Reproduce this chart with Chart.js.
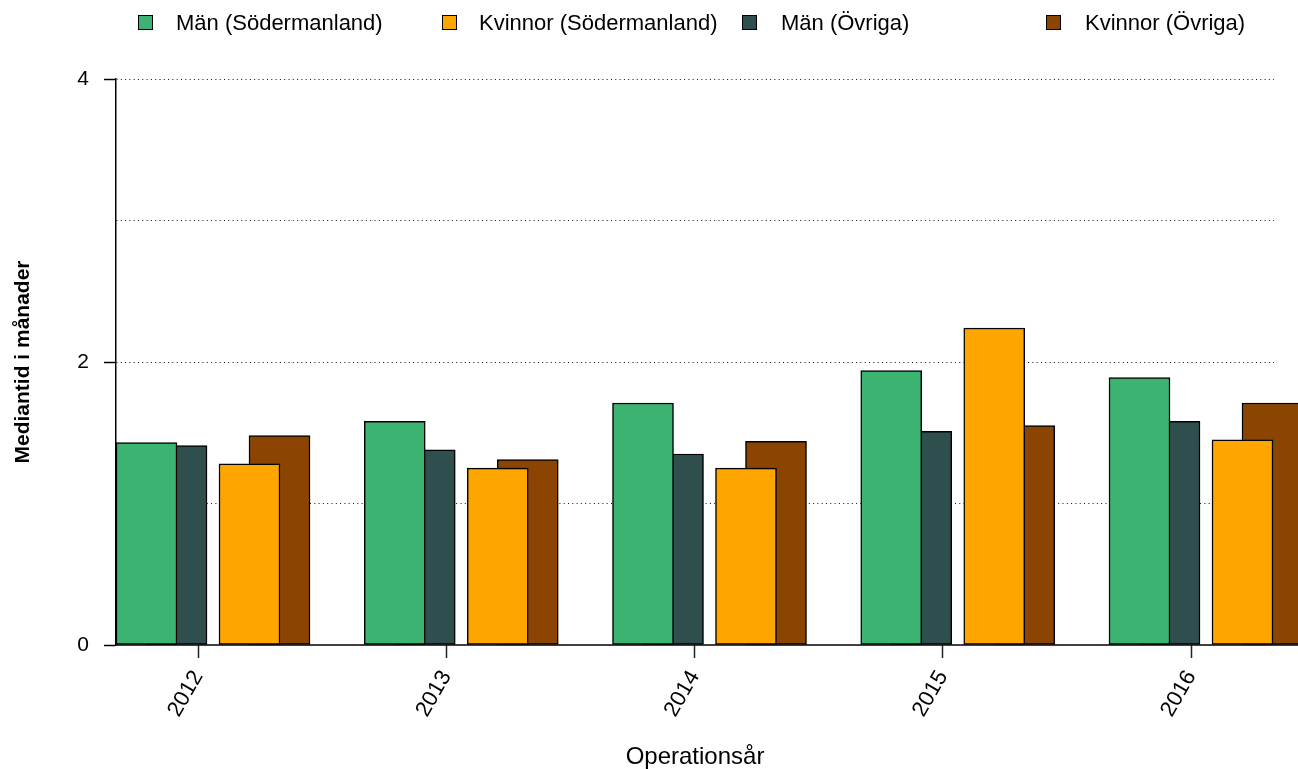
<!DOCTYPE html>
<html>
<head>
<meta charset="utf-8">
<script src="https://cdn.jsdelivr.net/npm/chart.js@4/dist/chart.umd.min.js"></script>
<style>
  html, body { margin: 0; padding: 0; background: #fff; overflow: hidden; }
  #wrap { position: relative; width: 1298px; height: 769px; }
  #c { position: absolute; left: 0; top: 0; }
  .lg-box { position: absolute; width: 15px; height: 15px; border: 1px solid #000; box-sizing: border-box; }
  .lg-txt { position: absolute; font: 22px "Liberation Sans", Arial, Helvetica, sans-serif; color: #000; white-space: nowrap; line-height: 22px; }
</style>
</head>
<body>
<div id="wrap">
  <canvas id="c" width="1298" height="769"></canvas>
</div>
<script>
// ---------------- data ----------------
const years = [2012, 2013, 2014, 2015, 2016];
const seriesLabels = ['Män (Södermanland)', 'Kvinnor (Södermanland)', 'Män (Övriga)', 'Kvinnor (Övriga)'];
const manSodermanland    = [1.43, 1.58, 1.71, 1.94, 1.89];
const kvinnorSodermanland = [1.28, 1.25, 1.25, 2.24, 1.45];
const manOvriga          = [1.41, 1.38, 1.35, 1.51, 1.58];
const kvinnorOvriga      = [1.48, 1.31, 1.44, 1.55, 1.71];
const yTickLabels = [0, 2, 4];
const yGridValues = [0, 1, 2, 3, 4];
const xTitle = 'Operationsår';
const yTitle = 'Mediantid i månader';

// ---------------- styles / layout ----------------
const FONT = '"Liberation Sans", Arial, Helvetica, sans-serif';
const colors = ['#3CB371', '#FFA500', '#2F4F4F', '#8B4500'];
const PX_PER_YEAR = 248.25;
const barOffsetsPx = [-51.5, 51.5, -21.5, 81.5];
const BAR_W = 61;
const plotLeft = 116, plotRight = 1274, plotTop = 79, plotBottom = 645;
const firstTickPx = 198;
const xMin = years[0] - (firstTickPx - plotLeft) / PX_PER_YEAR;
const xMax = xMin + (plotRight - plotLeft) / PX_PER_YEAR;
const legendBoxX = [138, 442, 742, 1046];
const legendTextX = [176, 479, 781, 1085];

// ---------------- legend (HTML) ----------------
const wrap = document.getElementById('wrap');
seriesLabels.forEach((lab, i) => {
  const b = document.createElement('div');
  b.className = 'lg-box';
  b.style.left = legendBoxX[i] + 'px';
  b.style.top = '15px';
  b.style.background = colors[i];
  wrap.appendChild(b);
  const t = document.createElement('div');
  t.className = 'lg-txt';
  t.style.left = legendTextX[i] + 'px';
  t.style.top = '12px';
  t.textContent = lab;
  wrap.appendChild(t);
});

// ---------------- chart ----------------
const seriesValues = [manSodermanland, kvinnorSodermanland, manOvriga, kvinnorOvriga];
const datasets = seriesValues.map((vals, i) => ({
  label: seriesLabels[i],
  data: years.map((yr, k) => ({ x: yr + barOffsetsPx[i] / PX_PER_YEAR, y: vals[k] })),
  backgroundColor: colors[i],
  borderColor: '#000',
  borderWidth: 1.5,
  borderSkipped: false,
  barThickness: BAR_W,
  grouped: false,
  clip: false
}));

const baselinePlugin = {
  id: 'baseline',
  afterDatasetsDraw(chart) {
    const ctx = chart.ctx;
    const y = chart.scales.y.getPixelForValue(0);
    ctx.save();
    ctx.strokeStyle = '#000';
    ctx.lineWidth = 1.5;
    ctx.beginPath();
    ctx.moveTo(chart.chartArea.left, y);
    ctx.lineTo(chart.width, y);
    ctx.stroke();
    ctx.restore();
  }
};

Chart.defaults.font.family = FONT;
Chart.defaults.color = '#000';

new Chart(document.getElementById('c'), {
  type: 'bar',
  data: { datasets },
  plugins: [baselinePlugin],
  options: {
    responsive: false,
    animation: false,
    devicePixelRatio: 1,
    layout: { padding: { top: plotTop, right: 1298 - plotRight, left: 0, bottom: 0 } },
    plugins: { legend: { display: false }, tooltip: { enabled: false } },
    scales: {
      x: {
        type: 'linear',
        min: xMin,
        max: xMax,
        offset: false,
        afterBuildTicks: s => { s.ticks = years.map(v => ({ value: v })); },
        ticks: {
          callback: v => String(v),
          autoSkip: false,
          maxRotation: 60,
          minRotation: 60,
          padding: 8,
          font: { size: 22 },
          color: '#000'
        },
        grid: {
          display: true,
          drawOnChartArea: false,
          drawTicks: true,
          tickLength: 13,
          tickColor: '#222',
          tickWidth: 1.5,
          offset: false
        },
        border: { display: false },
        title: {
          display: true,
          text: xTitle,
          font: { size: 24, lineHeight: 1 },
          padding: { top: 0, bottom: 0 },
          color: '#000'
        },
        afterFit: s => { s.height = 769 - plotBottom; }
      },
      y: {
        min: 0,
        max: 4,
        afterBuildTicks: s => { s.ticks = yGridValues.map(v => ({ value: v })); },
        ticks: {
          callback: v => (yTickLabels.includes(v) ? String(v) : ''),
          padding: 15,
          font: { size: 21 },
          color: '#000'
        },
        grid: {
          display: true,
          drawOnChartArea: true,
          drawTicks: true,
          tickLength: 12,
          tickWidth: 1.5,
          tickBorderDash: [],
          lineWidth: 1,
          color: c => (c.tick && c.tick.value === 0 ? 'rgba(0,0,0,0)' : '#111'),
          tickColor: c => (c.tick && yTickLabels.includes(c.tick.value) ? '#000' : 'rgba(0,0,0,0)')
        },
        border: { display: true, color: '#000', width: 1.5, dash: [1, 3.3] },
        title: {
          display: true,
          text: yTitle,
          font: { size: 21, weight: 'bold', lineHeight: 1.2 },
          padding: { top: 11, bottom: 0 },
          color: '#000'
        },
        afterFit: s => { s.width = plotLeft; }
      }
    }
  }
});
</script>
</body>
</html>
